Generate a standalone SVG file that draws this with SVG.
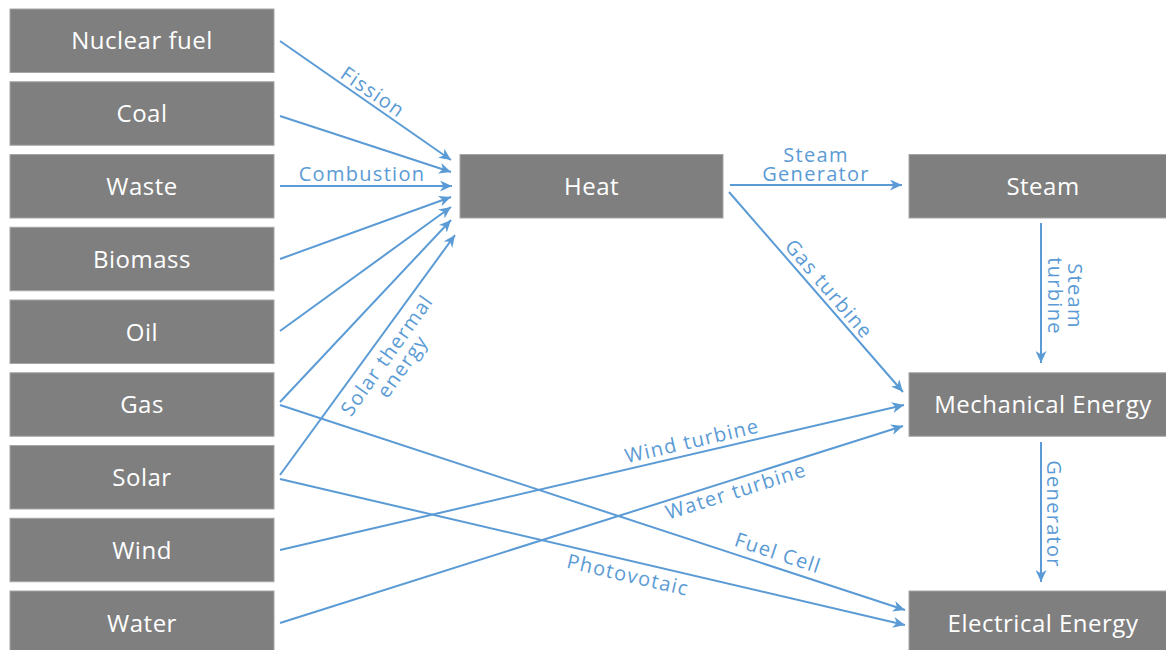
<svg xmlns="http://www.w3.org/2000/svg" width="1166" height="650" viewBox="0 0 1166 650">
<style>
.box{fill:#7f7f7f;stroke:#a6a6a6;stroke-width:1}
.bt{fill:#ffffff;font-family:"Open Sans","Liberation Sans",sans-serif;font-size:24px;text-anchor:middle;letter-spacing:0.5px}
.ln{fill:none;stroke:#5b9bd5;stroke-width:2;marker-end:url(#ah)}
.lb{fill:#5b9bd5;font-family:"Open Sans","Liberation Sans",sans-serif;font-size:20px;text-anchor:middle;letter-spacing:1.3px}
</style>
<defs>
<marker id="ah" markerUnits="userSpaceOnUse" markerWidth="13" markerHeight="11" refX="12" refY="5.5" orient="auto" viewBox="0 0 13 11">
<path d="M0,0 L12,5.5 L0,11 L3.5,5.5 z" fill="#5b9bd5"/>
</marker>
</defs>
<rect width="1166" height="650" fill="#ffffff"/>
<g id="nuclear"><rect class="box" x="10" y="9" width="264" height="63.5"/><text class="bt" x="142" y="49">Nuclear fuel</text></g>
<g id="coal"><rect class="box" x="10" y="81.75" width="264" height="63.5"/><text class="bt" x="142" y="122">Coal</text></g>
<g id="waste"><rect class="box" x="10" y="154.5" width="264" height="63.5"/><text class="bt" x="142" y="195">Waste</text></g>
<g id="biomass"><rect class="box" x="10" y="227.25" width="264" height="63.5"/><text class="bt" x="142" y="267.5">Biomass</text></g>
<g id="oil"><rect class="box" x="10" y="300" width="264" height="63.5"/><text class="bt" x="142" y="340.5">Oil</text></g>
<g id="gas"><rect class="box" x="10" y="372.75" width="264" height="63.5"/><text class="bt" x="142" y="413">Gas</text></g>
<g id="solar"><rect class="box" x="10" y="445.5" width="264" height="63.5"/><text class="bt" x="142" y="486">Solar</text></g>
<g id="wind"><rect class="box" x="10" y="518.25" width="264" height="63.5"/><text class="bt" x="142" y="558.5">Wind</text></g>
<g id="water"><rect class="box" x="10" y="591" width="264" height="63.5"/><text class="bt" x="142" y="631.5">Water</text></g>
<g id="heat"><rect class="box" x="460" y="154.5" width="263" height="63.5"/><text class="bt" x="591.5" y="195">Heat</text></g>
<g id="steam"><rect class="box" x="909" y="154.5" width="268" height="63.5"/><text class="bt" x="1043" y="195">Steam</text></g>
<g id="mechanical"><rect class="box" x="909" y="372.75" width="268" height="63.5"/><text class="bt" x="1043" y="413">Mechanical Energy</text></g>
<g id="electrical"><rect class="box" x="909" y="591" width="268" height="63.5"/><text class="bt" x="1043" y="631.5">Electrical Energy</text></g>
<g id="connectors">
<line class="ln" x1="280" y1="41" x2="451" y2="160"/>
<line class="ln" x1="280" y1="116" x2="451" y2="172"/>
<line class="ln" x1="280" y1="186" x2="452" y2="186"/>
<line class="ln" x1="280" y1="259" x2="451" y2="197"/>
<line class="ln" x1="280" y1="331" x2="451" y2="207"/>
<line class="ln" x1="280" y1="402" x2="451" y2="220"/>
<line class="ln" x1="280" y1="475" x2="455" y2="235"/>
<line class="ln" x1="730" y1="185" x2="902" y2="185"/>
<line class="ln" x1="729" y1="192" x2="903" y2="392"/>
<line class="ln" x1="1041" y1="223" x2="1041" y2="363"/>
<line class="ln" x1="1041" y1="442" x2="1041" y2="582"/>
<line class="ln" x1="280" y1="550" x2="904" y2="405"/>
<line class="ln" x1="280" y1="623" x2="903" y2="426"/>
<line class="ln" x1="280" y1="405" x2="905" y2="610"/>
<line class="ln" x1="280" y1="479" x2="905" y2="625"/>
<text class="lb" transform="translate(373,92) rotate(34.7)" y="7">Fission</text>
<text class="lb" x="362" y="181">Combustion</text>
<text class="lb" transform="translate(395,361) rotate(-54.5)"><tspan x="0" y="-3">Solar thermal</tspan><tspan x="0" y="16">energy</tspan></text>
<text class="lb"><tspan x="816" y="161.5">Steam</tspan><tspan x="816" y="181">Generator</tspan></text>
<text class="lb" transform="translate(829,289) rotate(49.5)" y="7">Gas turbine</text>
<text class="lb" transform="translate(1041,296) rotate(90)"><tspan x="0" y="-27">Steam</tspan><tspan x="0" y="-7">turbine</tspan></text>
<text class="lb" transform="translate(1041,514) rotate(90)" x="0" y="-6">Generator</text>
<text class="lb" transform="translate(692,441) rotate(-13.1)" y="7">Wind turbine</text>
<text class="lb" transform="translate(736,491) rotate(-17.6)" y="7">Water turbine</text>
<text class="lb" transform="translate(778,553) rotate(18.3)" y="7">Fuel Cell</text>
<text class="lb" transform="translate(628,575) rotate(13.2)" y="7">Photovotaic</text>
</g>
</svg>
